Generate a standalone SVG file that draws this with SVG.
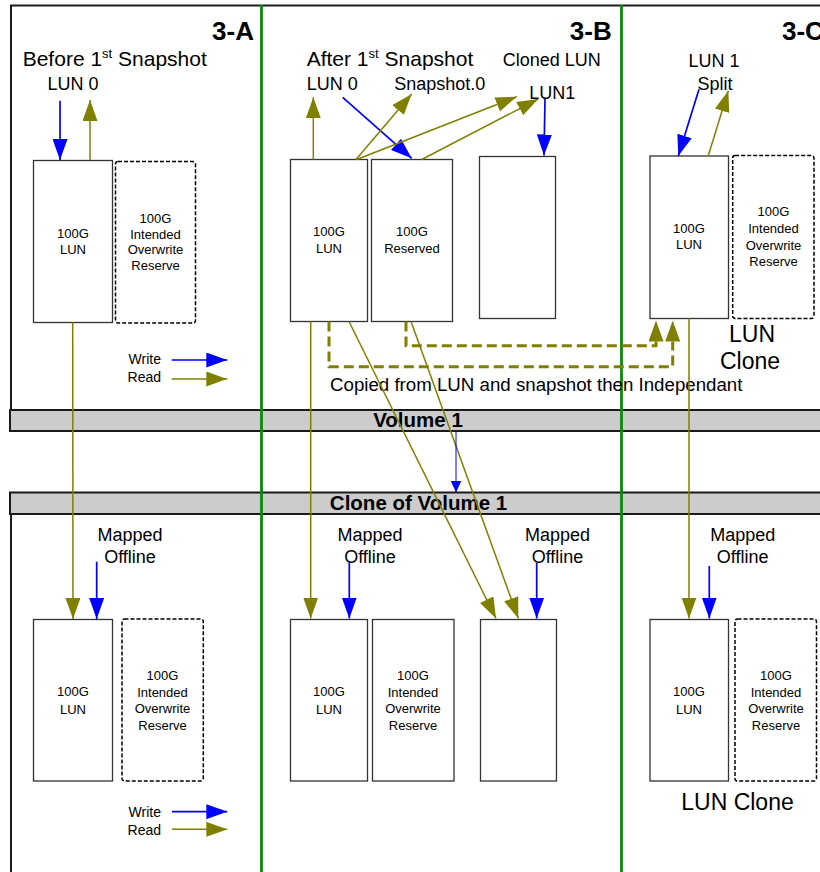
<svg xmlns="http://www.w3.org/2000/svg" width="820" height="872" viewBox="0 0 820 872">
<style>
text{font-family:"Liberation Sans",Arial,sans-serif;fill:#000}
.t{font-size:18px}
.big{font-size:21px}
.title{font-size:26px;font-weight:bold}
.bar{font-size:20.5px;font-weight:bold}
.box{fill:#fff;stroke:#333;stroke-width:1.3}
.dbox{fill:#fff;stroke:#000;stroke-width:1.5;stroke-dasharray:4 2}
.bt{font-size:13px;text-anchor:middle}
.mid{text-anchor:middle}
.frame{fill:none;stroke:#1a1a1a;stroke-width:2}
.vbar{fill:#cccccc;stroke:#1a1a1a;stroke-width:2}
.green{stroke:#0a8a0a;stroke-width:2.8}
.ol{fill:none;stroke:#808000;stroke-width:1.5}
.bl{fill:none;stroke:#0000ff;stroke-width:1.7}
.od{fill:none;stroke:#808000;stroke-width:3;stroke-dasharray:10 5}
</style>
<defs>
<marker id="ho" markerUnits="userSpaceOnUse" markerWidth="21" markerHeight="15" refX="21" refY="7.5" orient="auto"><path d="M0,0 L21,7.5 L0,15 Z" fill="#808000"/></marker>
<marker id="hb" markerUnits="userSpaceOnUse" markerWidth="21" markerHeight="15" refX="21" refY="7.5" orient="auto"><path d="M0,0 L21,7.5 L0,15 Z" fill="#0000ff"/></marker>
<marker id="hod" markerUnits="userSpaceOnUse" markerWidth="21" markerHeight="15" refX="0" refY="7.5" orient="auto"><path d="M0,0 L21,7.5 L0,15 Z" fill="#808000"/></marker>
<marker id="hbs" markerUnits="userSpaceOnUse" markerWidth="12" markerHeight="11" refX="12" refY="5.5" orient="auto"><path d="M0,0 L12,5.5 L0,11 Z" fill="#0000ff"/></marker>
</defs>

<g id="frames">
<path class="frame" d="M11,431 V5.5 H821"/>
<path class="frame" d="M11,514 V873"/>
<rect class="vbar" x="10" y="410" width="812" height="21"/>
<rect class="vbar" x="10" y="492.5" width="812" height="21.5"/>
<text class="bar mid" x="418" y="427">Volume 1</text>
<text class="bar mid" x="418.5" y="510">Clone of Volume 1</text>
<line class="green" x1="261.5" y1="5" x2="261.5" y2="872"/>
<line class="green" x1="621.5" y1="5" x2="621.5" y2="872"/>
</g>

<g id="labels">
<text class="title" x="254" y="40" text-anchor="end">3-A</text>
<text class="title" x="611.7" y="40" text-anchor="end">3-B</text>
<text class="title" x="782" y="40">3-C</text>
<text class="big" x="22.7" y="65.7">Before 1<tspan font-size="13px" dy="-8">st</tspan><tspan dy="8"> Snapshot</tspan></text>
<text class="t mid" x="73" y="90">LUN 0</text>
<text class="big" x="306.7" y="65.7">After 1<tspan font-size="13px" dy="-8">st</tspan><tspan dy="8"> Snapshot</tspan></text>
<text class="t" x="502.7" y="65.7">Cloned LUN</text>
<text class="t" x="306.7" y="90">LUN 0</text>
<text class="t" x="394.3" y="90">Snapshot.0</text>
<text class="t" x="529.3" y="99.3">LUN1</text>
<text class="t mid" x="714" y="66.7">LUN 1</text>
<text class="t mid" x="715" y="90">Split</text>
<text class="mid" x="752" y="342" font-size="23px">LUN</text>
<text class="mid" x="750" y="368.5" font-size="23px">Clone</text>
<text x="330" y="391" font-size="18.7px">Copied from LUN and snapshot then Independant</text>
<text class="mid" x="737.5" y="810" font-size="23px">LUN Clone</text>
<text class="t mid" x="130" y="540.7">Mapped</text>
<text class="t mid" x="130" y="563.3">Offline</text>
<text class="t mid" x="370" y="540.7">Mapped</text>
<text class="t mid" x="370" y="563.3">Offline</text>
<text class="t mid" x="557.5" y="540.7">Mapped</text>
<text class="t mid" x="557.5" y="563.3">Offline</text>
<text class="t mid" x="742.7" y="540.7">Mapped</text>
<text class="t mid" x="742.7" y="563.3">Offline</text>
</g>

<g id="legend-top">
<text x="161" y="364" font-size="14px" text-anchor="end">Write</text>
<text x="161" y="382" font-size="14px" text-anchor="end">Read</text>
</g>
<g id="legend-bottom">
<text x="161" y="816.7" font-size="14px" text-anchor="end">Write</text>
<text x="161" y="835" font-size="14px" text-anchor="end">Read</text>
</g>

<g id="a-top-lun"><rect class="box" x="33.5" y="160.5" width="79" height="162"/>
<text class="bt" x="73" y="238">100G</text><text class="bt" x="73" y="254">LUN</text></g>
<g id="a-top-reserve"><rect class="dbox" x="115.5" y="161.5" width="80" height="161.5" rx="2.5"/>
<text class="bt" x="155.5" y="222.7">100G</text><text class="bt" x="155.5" y="238.5">Intended</text><text class="bt" x="155.5" y="254">Overwrite</text><text class="bt" x="155.5" y="270">Reserve</text></g>

<g id="b-top-lun"><rect class="box" x="290.5" y="159.5" width="77" height="162"/>
<text class="bt" x="329" y="236">100G</text><text class="bt" x="329" y="253">LUN</text></g>
<g id="b-top-reserved"><rect class="box" x="371.5" y="159.5" width="81" height="162"/>
<text class="bt" x="412" y="236">100G</text><text class="bt" x="412" y="253">Reserved</text></g>
<g id="b-top-cloned"><rect class="box" x="479.5" y="156.5" width="76" height="162"/></g>

<g id="c-top-lun"><rect class="box" x="650" y="156" width="78.5" height="162.5"/>
<text class="bt" x="689" y="233">100G</text><text class="bt" x="689" y="249">LUN</text></g>
<g id="c-top-reserve"><rect class="dbox" x="732.7" y="155.5" width="81.3" height="163" rx="2.5"/>
<text class="bt" x="773.5" y="216">100G</text><text class="bt" x="773.5" y="233">Intended</text><text class="bt" x="773.5" y="249.5">Overwrite</text><text class="bt" x="773.5" y="266">Reserve</text></g>

<g id="a-bot-lun"><rect class="box" x="33.5" y="619.5" width="79" height="161.5"/>
<text class="bt" x="73" y="696">100G</text><text class="bt" x="73" y="714">LUN</text></g>
<g id="a-bot-reserve"><rect class="dbox" x="122" y="619" width="81.3" height="162" rx="2.5"/>
<text class="bt" x="162.5" y="679.5">100G</text><text class="bt" x="162.5" y="696.5">Intended</text><text class="bt" x="162.5" y="713">Overwrite</text><text class="bt" x="162.5" y="730">Reserve</text></g>

<g id="b-bot-lun"><rect class="box" x="290.5" y="619.5" width="77" height="161.5"/>
<text class="bt" x="329" y="696">100G</text><text class="bt" x="329" y="714">LUN</text></g>
<g id="b-bot-reserve"><rect class="box" x="372.5" y="619.5" width="81.5" height="161.5"/>
<text class="bt" x="413" y="679.5">100G</text><text class="bt" x="413" y="696.5">Intended</text><text class="bt" x="413" y="713">Overwrite</text><text class="bt" x="413" y="730">Reserve</text></g>
<g id="b-bot-clone"><rect class="box" x="480.5" y="619.5" width="76" height="161.5"/></g>

<g id="c-bot-lun"><rect class="box" x="650" y="619.5" width="78.5" height="161.5"/>
<text class="bt" x="689" y="696">100G</text><text class="bt" x="689" y="714">LUN</text></g>
<g id="c-bot-reserve"><rect class="dbox" x="735" y="619" width="81.5" height="162" rx="2.5"/>
<text class="bt" x="776" y="679.5">100G</text><text class="bt" x="776" y="696.5">Intended</text><text class="bt" x="776" y="713">Overwrite</text><text class="bt" x="776" y="730">Reserve</text></g>

<g id="connectors">
<line class="bl" x1="60" y1="100.7" x2="60" y2="160" marker-end="url(#hb)"/>
<line class="ol" x1="90" y1="160" x2="90" y2="100" marker-end="url(#ho)"/>
<line class="bl" x1="171.7" y1="360" x2="227.3" y2="360" marker-end="url(#hb)"/>
<line class="ol" x1="171.7" y1="379" x2="227.3" y2="379" marker-end="url(#ho)"/>
<line class="bl" x1="172" y1="811.7" x2="227.3" y2="811.7" marker-end="url(#hb)"/>
<line class="ol" x1="172" y1="829.3" x2="227.3" y2="829.3" marker-end="url(#ho)"/>

<line class="ol" x1="313.3" y1="159.5" x2="313.3" y2="97.3" marker-end="url(#ho)"/>
<line class="bl" x1="342.7" y1="97.3" x2="411.7" y2="158.3" marker-end="url(#hb)"/>
<line class="ol" x1="356" y1="159.5" x2="411.7" y2="94" marker-end="url(#ho)"/>
<line class="ol" x1="356.7" y1="159.5" x2="516.7" y2="96.7" marker-end="url(#ho)"/>
<line class="ol" x1="421.7" y1="159.5" x2="538.3" y2="99" marker-end="url(#ho)"/>
<line class="bl" x1="545" y1="99" x2="544" y2="155.5" marker-end="url(#hb)"/>

<line class="bl" x1="699" y1="89.3" x2="678.3" y2="156" marker-end="url(#hb)"/>
<line class="ol" x1="708.3" y1="155.5" x2="728.3" y2="90.7" marker-end="url(#ho)"/>

<path class="od" d="M406,321.5 V345.7 H656 V341.5" marker-end="url(#hod)"/>
<path class="od" d="M329,321.5 V366.7 H672.7 V341.5" marker-end="url(#hod)"/>

<line class="ol" x1="72.7" y1="322.5" x2="73" y2="619" marker-end="url(#ho)"/>
<line class="bl" x1="96.7" y1="561.7" x2="96.7" y2="619" marker-end="url(#hb)"/>
<line class="ol" x1="310.7" y1="321.5" x2="310.7" y2="618.5" marker-end="url(#ho)"/>
<line class="bl" x1="349.3" y1="561.7" x2="349.3" y2="618.5" marker-end="url(#hb)"/>
<line class="ol" x1="349" y1="321.5" x2="496" y2="618.5" marker-end="url(#ho)"/>
<line class="ol" x1="411" y1="321.5" x2="518.3" y2="618.5" marker-end="url(#ho)"/>
<line class="bl" x1="536.7" y1="563" x2="536.7" y2="618.5" marker-end="url(#hb)"/>
<line class="ol" x1="689" y1="318.5" x2="689" y2="618.5" marker-end="url(#ho)"/>
<line class="bl" x1="709.3" y1="566" x2="709.3" y2="618.5" marker-end="url(#hb)"/>

<line x1="456" y1="432" x2="456" y2="492.5" stroke="#0000ff" stroke-width="1" marker-end="url(#hbs)"/>
</g>
</svg>
